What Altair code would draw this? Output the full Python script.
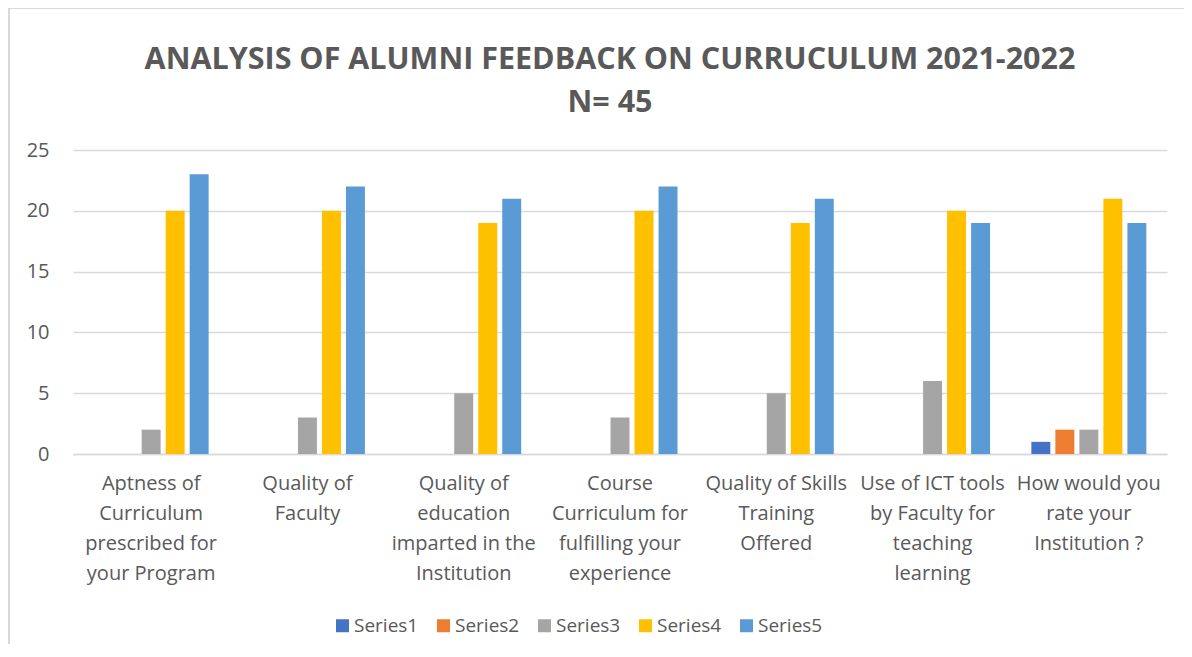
import altair as alt
import pandas as pd

categories = [
    "Aptness of|Curriculum|prescribed for|your Program",
    "Quality of|Faculty",
    "Quality of|education|imparted in the|Institution",
    "Course|Curriculum for|fulfilling your|experience",
    "Quality of Skills|Training|Offered",
    "Use of ICT tools|by Faculty for|teaching|learning",
    "How would you|rate your|Institution ?",
]
series_names = ["Series1", "Series2", "Series3", "Series4", "Series5"]
series1 = [0, 0, 0, 0, 0, 0, 1]
series2 = [0, 0, 0, 0, 0, 0, 2]
series3 = [2, 3, 5, 3, 5, 6, 2]
series4 = [20, 20, 19, 20, 19, 20, 21]
series5 = [23, 22, 21, 22, 21, 19, 19]
colors = ["#4472C4", "#ED7D31", "#A5A5A5", "#FFC000", "#5B9BD5"]
y_ticks = [0, 5, 10, 15, 20, 25]

rows = []
for name, vals in zip(series_names, [series1, series2, series3, series4, series5]):
    for cat, v in zip(categories, vals):
        rows.append({"category": cat, "series": name, "value": v})
df = pd.DataFrame(rows)

FONT = "Open Sans"
TXT = "#595959"
GRID = "#d9d9d9"

bars = alt.Chart(df).mark_bar().encode(
    x=alt.X("category:N", sort=categories, title=None,
            scale=alt.Scale(paddingInner=0, paddingOuter=0),
            axis=alt.Axis(labelExpr="split(datum.label, '|')", labelAngle=0,
                          labelFontSize=20, labelColor=TXT, labelFont=FONT,
                          labelLineHeight=30, labelPadding=19, labelLimit=400,
                          ticks=False, domainColor=GRID, domainWidth=1.5,
                          grid=False)),
    xOffset=alt.XOffset("series:N", sort=series_names,
                        scale=alt.Scale(paddingInner=0.21, paddingOuter=0.86)),
    y=alt.Y("value:Q", title=None,
            scale=alt.Scale(domain=[0, 25], nice=False),
            axis=alt.Axis(values=y_ticks, labelFontSize=20, labelColor=TXT,
                          labelFont=FONT, labelPadding=24, ticks=False,
                          domain=False, gridColor=GRID, gridWidth=1.5)),
    color=alt.Color("series:N", sort=series_names,
                    scale=alt.Scale(domain=series_names, range=colors),
                    legend=alt.Legend(title=None, orient="none", direction="horizontal",
                                      legendX=260, legendY=466,
                                      symbolType="square", symbolSize=169,
                                      symbolStrokeWidth=0, symbolOpacity=1,
                                      labelFontSize=19, labelColor=TXT, labelFont=FONT,
                                      labelOffset=2, columnPadding=15)),
)

border = alt.Chart(pd.DataFrame({"k": [0]})).mark_rule(color=GRID, strokeWidth=2).encode(
    x=alt.value(-64), y=alt.value(-142), y2=alt.value(500)
)
border_top = alt.Chart(pd.DataFrame({"k": [0]})).mark_rule(color=GRID, strokeWidth=2).encode(
    x=alt.value(-64), x2=alt.value(1120), y=alt.value(-142)
)

chart = alt.layer(border, border_top, bars).properties(
    width=1094, height=304,
    background="white",
    autosize=alt.AutoSizeParams(type="none"),
    padding={"left": 65, "top": 142, "right": 17, "bottom": 190},
    title=alt.TitleParams(
        text=["ANALYSIS OF ALUMNI FEEDBACK ON CURRUCULUM 2021-2022", "N= 45"],
        fontSize=30.5, fontWeight="bold", color=TXT, font=FONT,
        anchor="middle", lineHeight=43, dx=-10, offset=-111,
    ),
).configure_view(stroke=None)

chart.save("out.html", embed_options={"renderer": "svg", "actions": False})
